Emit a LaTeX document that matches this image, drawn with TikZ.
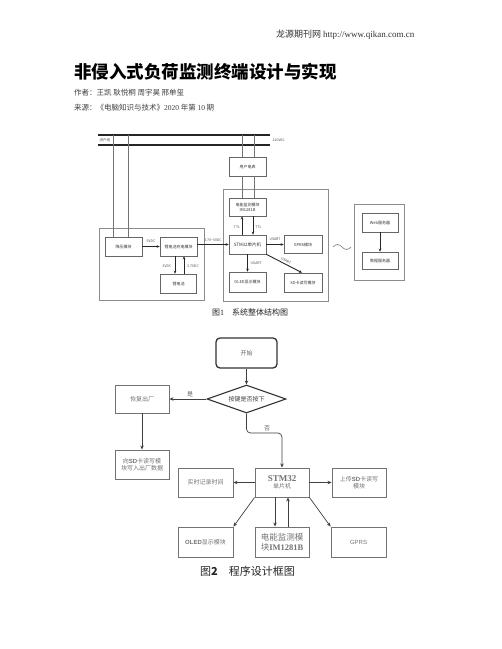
\documentclass[tikz,border=0pt]{standalone}
\usepackage{fontspec}
\setmainfont{Liberation Serif}
\setsansfont{Liberation Sans}
\newfontfamily\cjk{Noto Sans CJK SC}
\usetikzlibrary{shapes.geometric,arrows.meta}
\tikzset{
  bone/.style={draw=black!60, line width=0.6pt, inner sep=0pt, align=center,
    font=\cjk\fontsize{4}{5}\selectfont, text=black!80},
  cont/.style={draw=black!45, line width=0.8pt},
  wire/.style={draw=black!55, line width=0.6pt},
  aone/.style={-{Stealth[length=3pt,width=2.6pt]}, line width=0.9pt, draw=black!85},
  lbl/.style={font=\cjk\fontsize{3.5}{4}\selectfont, text=black!70, inner sep=0.5pt},
  btwo/.style={draw=black!55, line width=0.9pt, inner sep=0pt, align=center,
    font=\cjk\fontsize{6}{7.5}\selectfont, text=black!55},
  atwo/.style={-{Stealth[length=4pt,width=3.5pt]}, line width=0.7pt, draw=black!75},
  lbltwo/.style={font=\cjk\fontsize{6}{7}\selectfont, text=black!60, inner sep=0.5pt}
}
\begin{document}
\begin{tikzpicture}[x=1pt,y=-1pt]
\path[use as bounding box, fill=white] (0,0) rectangle (502,649);

% ---------- header ----------
\node[anchor=west, inner sep=0, font=\cjk\fontsize{9}{10}\selectfont, text=black!80] (hdr) at (276,35)
  {龙源期刊网 {\rmfamily http://www.qikan.com.cn}};
\node[anchor=west, inner sep=0, font=\cjk\bfseries\fontsize{17.5}{20}\selectfont] (title) at (74,72)
  {非侵入式负荷监测终端设计与实现};
\node[anchor=west, inner sep=0, font=\cjk\fontsize{7.5}{9}\selectfont, text=black!75] (auth) at (74,93)
  {作者：王凯 耿悦桐 周宇昊 邢单玺};
\node[anchor=west, inner sep=0, font=\cjk\fontsize{7.5}{9}\selectfont, text=black!75] (src) at (74,108)
  {来源：《电脑知识与技术》{\rmfamily 2020} 年第 {\rmfamily 10} 期};

% ---------- figure 1 ----------
\coordinate (plA) at (98,135); \coordinate (plB) at (270,135);
\coordinate (pnA) at (98,145); \coordinate (pnB) at (270,145);
\draw[line width=1.3pt, black!85] (plA) -- (plB);
\draw[line width=1.3pt, black!85] (pnA) -- (pnB);
\node[lbl, anchor=west] (jhx) at (99,140) {进户线};
\node[lbl, anchor=west] (vac) at (272,140) {220VAC};

% containers
\draw[cont] (99,228) rectangle (204,300);
\draw[cont] (223,189) rectangle (328,301);
\draw[cont] (354,204) rectangle (404,280);

% boxes
\node[bone, minimum width=37pt, minimum height=19pt] (yhdb) at (247.5,166.5) {用户电表};
\node[bone, minimum width=37pt, minimum height=18pt] (dn) at (247.5,207) {电能监测模块\\IM1281B};
\node[bone, minimum width=37pt, minimum height=19pt, font=\cjk\fontsize{4.5}{5}\selectfont] (stm) at (247.5,244.5) {STM32单片机};
\node[bone, minimum width=37pt, minimum height=20pt] (oled) at (247.5,282) {OLED显示模块};
\node[bone, minimum width=38pt, minimum height=18pt] (gprs) at (303,244.5) {GPRS模块};
\node[bone, minimum width=38pt, minimum height=19pt] (sd) at (303,282.5) {SD卡读写模块};
\node[bone, minimum width=37pt, minimum height=19pt] (jy) at (123.5,246.5) {降压模块};
\node[bone, minimum width=37pt, minimum height=19pt] (cd) at (178.5,246.5) {锂电池充电模块};
\node[bone, minimum width=36pt, minimum height=19pt] (ldc) at (178.5,283.5) {锂电池};
\node[bone, minimum width=36pt, minimum height=19pt] (web) at (380,222.5) {Web服务器};
\node[bone, minimum width=36pt, minimum height=17pt] (data) at (380,260.5) {数据服务器};

% supply wires
\coordinate (v1) at (113,135); \coordinate (v2) at (128,135);
\coordinate (v3) at (242,135); \coordinate (v4) at (254,135);
\draw[wire] (v1) -- (v1 |- jy.north);
\draw[wire] (v2) -- (v2 |- jy.north);
\draw[wire] (v3) -- (v3 |- yhdb.north);
\draw[wire] (v4) -- (v4 |- yhdb.north);
\draw[wire] (v3 |- yhdb.south) -- (v3 |- dn.north);
\draw[wire] (v4 |- yhdb.south) -- (v4 |- dn.north);

% arrows
\draw[aone] ([xshift=-5.5pt]stm.north) -- ([xshift=-5.5pt]dn.south);
\draw[aone] ([xshift=5.5pt]dn.south) -- ([xshift=5.5pt]stm.north);
\node[lbl] (ttl1) at (237,227) {TTL};
\node[lbl] (ttl2) at (258.5,227) {TTL};
\draw[aone] (stm.south) -- (oled.north);
\node[lbl, anchor=west] (us1) at (250,263) {USART};
\draw[aone] (stm.east) -- (gprs.west);
\node[lbl] (us2) at (275,239.5) {USART};
\draw[aone] (stm.south east) -- ([xshift=-1pt]sd.north);
\node[lbl, rotate=-28] (us3) at (286,260.5) {USART};
\draw[aone] (jy.east) -- (cd.west);
\node[lbl] (v5a) at (151,241.5) {5VDC};
\draw[aone] (cd.east |- stm.west) -- (stm.west);
\node[lbl] (v37) at (213,240) {3.7V\textasciitilde 5VDC};
\draw[aone] ([xshift=-3.5pt]cd.south) -- ([xshift=-3.5pt]ldc.north);
\draw[aone] ([xshift=5.5pt]ldc.north) -- ([xshift=5.5pt]cd.south);
\node[lbl] (v5b) at (167,266) {5VDC};
\node[lbl] (v37b) at (193,266) {3.7VDC};
\draw[aone] (web.south) -- (data.north);

% tilde
\draw[line width=0.5pt, black!60] (333,247) sin (337.5,244.5) cos (342,247) sin (346.5,249.5) cos (351,247);

\node[anchor=west, inner sep=0, font=\cjk\fontsize{8}{9}\selectfont, text=black!85] (cap1) at (212,312)
  {图{\rmfamily 1}\quad 系统整体结构图};

% ---------- figure 2 ----------
\node[draw=black!80, line width=1.3pt, rounded corners=4pt, minimum width=61pt, minimum height=30pt,
  inner sep=0, font=\cjk\fontsize{6}{7}\selectfont, text=black!60] (st) at (246.5,353) {开始};
\node[diamond, draw=black!80, line width=1.1pt, aspect=2.8, minimum width=79pt, minimum height=28pt,
  inner sep=0, font=\cjk\fontsize{6}{7}\selectfont, text=black!75] (dm) at (246.5,399) {按键是否按下};
\node[btwo, minimum width=54pt, minimum height=28pt] (hf) at (142,399) {恢复出厂};
\node[btwo, minimum width=54pt, minimum height=29pt] (xsd) at (142,464.5)
  {向{\sffamily\bfseries SD}卡读写模\\块写入出厂数据};
\node[btwo, minimum width=54pt, minimum height=29pt] (stm2) at (282,482.5)
  {{\rmfamily\bfseries\fontsize{9}{10}\selectfont STM32}\\单片机};
\node[btwo, minimum width=55pt, minimum height=29pt] (ss) at (205.5,482.5) {实时记录时间};
\node[btwo, minimum width=54pt, minimum height=29pt] (sc) at (359,482.5)
  {上传{\sffamily\bfseries SD}卡读写\\模块};
\node[btwo, minimum width=55pt, minimum height=30pt] (oled2) at (205.5,542)
  {{\sffamily\bfseries OLED}显示模块};
\node[btwo, minimum width=54pt, minimum height=30pt, font=\cjk\fontsize{8.5}{10}\selectfont] (dn2) at (282,542)
  {电能监测模\\块{\rmfamily\bfseries IM1281B}};
\node[btwo, minimum width=55pt, minimum height=30pt, font=\sffamily\fontsize{6}{7}\selectfont] (gprs2) at (358.5,542) {GPRS};

\draw[atwo] (st.south) -- (dm.north);
\draw[atwo] (dm.west) -- (hf.east);
\node[lbltwo] (shi) at (190,394) {是};
\draw[atwo] (hf.south) -- (xsd.north);
\coordinate (turn) at (282,433);
\draw[atwo, rounded corners=4pt] (dm.south) |- (turn) -- (stm2.north);
\node[lbltwo] (fou) at (267,428) {否};
\draw[atwo] (stm2.west) -- (ss.east);
\draw[atwo] (stm2.east) -- (sc.west);
\draw[atwo] (stm2.south west) -- (oled2.north east);
\draw[atwo] ([xshift=-7pt]stm2.south) -- ([xshift=-7pt]dn2.north);
\draw[atwo] ([xshift=6pt]dn2.north) -- ([xshift=6pt]stm2.south);
\draw[atwo] (stm2.south east) -- (gprs2.north west);

\node[anchor=west, inner sep=0, font=\cjk\fontsize{11}{12}\selectfont, text=black!85] (cap2) at (200,571)
  {图{\bfseries 2}\quad 程序设计框图};
\end{tikzpicture}
\end{document}
